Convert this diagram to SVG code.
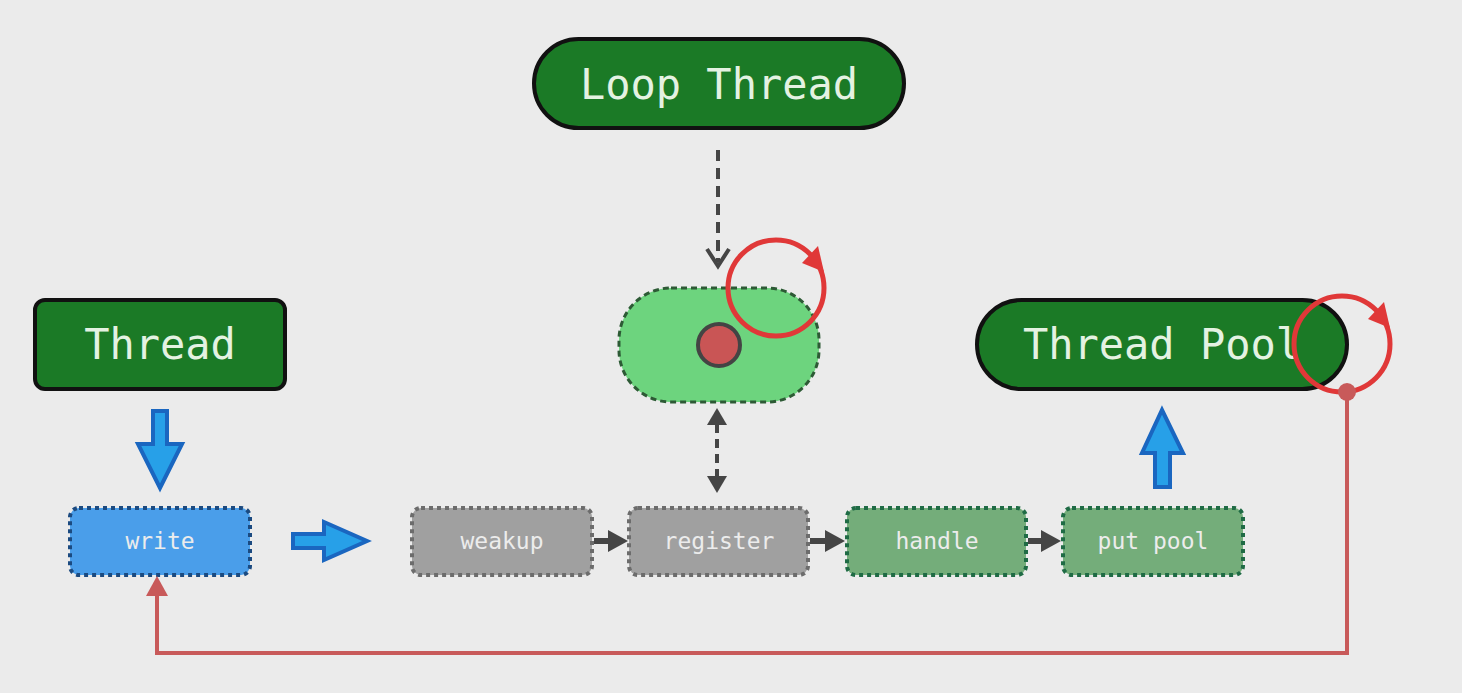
<svg xmlns="http://www.w3.org/2000/svg" width="1462" height="693" viewBox="0 0 1462 693">
<style>
.big{fill:#1b7a26;stroke:#111;stroke-width:4}
.bigt{font-family:"DejaVu Sans Mono","Liberation Mono",monospace;font-size:42px;fill:#e4f2e2;text-anchor:middle;dominant-baseline:central}
.st{font-family:"DejaVu Sans Mono","Liberation Mono",monospace;font-size:23px;fill:#ececec;text-anchor:middle;dominant-baseline:central}
.blue{fill:#4a9eea;stroke:#1b4a80;stroke-width:4;stroke-dasharray:4 4}
.grey{fill:#a0a0a0;stroke:#6c6c6c;stroke-width:4;stroke-dasharray:4 4}
.green{fill:#74ad7a;stroke:#1f6b45;stroke-width:4;stroke-dasharray:4 4}
.barrow{fill:#27a0e8;stroke:#1a66c0;stroke-width:4;stroke-linejoin:miter}
.dk{stroke:#454545;stroke-width:4;fill:none}
.dkf{fill:#454545}
.red{stroke:#e03838;stroke-width:5;fill:none}
.redf{fill:#e03838}
.rl{stroke:#c85a5a;stroke-width:4;fill:none}
</style>
<rect width="1462" height="693" fill="#ebebeb"/>
<g id="loop-thread">
<rect class="big" x="534" y="39" width="370" height="89" rx="44.5"/>
<text class="bigt" x="719" y="84">Loop Thread</text>
</g>
<g id="loop">
<rect x="619" y="288" width="200" height="114" rx="52" fill="#6dd47e" stroke="#2d5a35" stroke-width="3" stroke-dasharray="6 4"/>
<circle cx="719" cy="345" r="21" fill="#c95555" stroke="#444" stroke-width="4"/>
</g>
<g id="thread">
<rect class="big" x="35" y="300" width="250" height="89" rx="10"/>
<text class="bigt" x="160" y="344">Thread</text>
</g>
<g id="thread-pool">
<rect class="big" x="977" y="300" width="370" height="89" rx="44.5"/>
<text class="bigt" x="1162" y="344">Thread Pool</text>
</g>
<g id="write">
<rect class="blue" x="70" y="508" width="180" height="67" rx="9"/>
<text class="st" x="160" y="541">write</text>
</g>
<g id="weakup">
<rect class="grey" x="412" y="508" width="180" height="67" rx="9"/>
<text class="st" x="502" y="541">weakup</text>
</g>
<g id="register">
<rect class="grey" x="629" y="508" width="179" height="67" rx="9"/>
<text class="st" x="719" y="541">register</text>
</g>
<g id="handle">
<rect class="green" x="847" y="508" width="179" height="67" rx="9"/>
<text class="st" x="937" y="541">handle</text>
</g>
<g id="put-pool">
<rect class="green" x="1063" y="508" width="180" height="67" rx="9"/>
<text class="st" x="1153" y="541">put pool</text>
</g>
<g id="connectors">
<path class="barrow" d="M153,411 H167 V444 H182 L160,488 L138,444 H153 Z"/>
<path class="barrow" d="M293,534 H324 V522 L367,541 L324,560 V548 H293 Z"/>
<path class="barrow" d="M1155,487 V453 H1142 L1162,410 L1183,453 H1170 V487 Z"/>
<line class="dk" x1="718" y1="150" x2="718" y2="262" stroke-dasharray="11 7"/>
<path class="dk" d="M707,249 L718,266 L729,249" stroke-width="5"/>
<line class="dk" x1="717" y1="424" x2="717" y2="478" stroke-dasharray="9 6"/>
<path class="dkf" d="M717,408 L727,425 L707,425 Z"/>
<path class="dkf" d="M717,493 L727,476 L707,476 Z"/>
<line x1="594" y1="541" x2="612" y2="541" stroke="#454545" stroke-width="6"/>
<path class="dkf" d="M628,541 L608,530 L608,552 Z"/>
<line x1="810" y1="541" x2="829" y2="541" stroke="#454545" stroke-width="6"/>
<path class="dkf" d="M845,541 L825,530 L825,552 Z"/>
<line x1="1028" y1="541" x2="1045" y2="541" stroke="#454545" stroke-width="6"/>
<path class="dkf" d="M1061,541 L1041,530 L1041,552 Z"/>
<circle class="red" cx="776" cy="288" r="48"/>
<path class="redf" d="M818,246 L802,263 L824,272 Z"/>
<circle class="red" cx="1342" cy="344" r="48"/>
<path class="redf" d="M1384,302 L1368,319 L1390,328 Z"/>
<circle cx="1347" cy="392" r="9" fill="#c85a5a"/>
<path class="rl" d="M1347,392 V653 H157 V592"/>
<path d="M157,576 L168,596 L146,596 Z" fill="#c85a5a"/>
</g>
</svg>
